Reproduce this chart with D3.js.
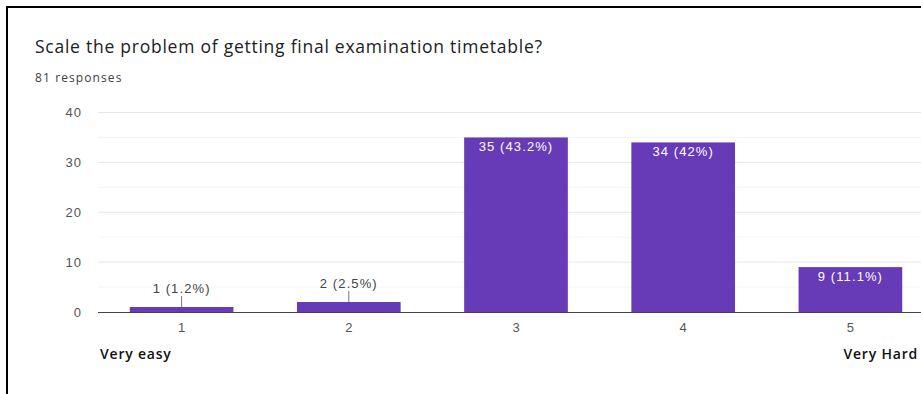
<!DOCTYPE html>
<html><head><meta charset="utf-8">
<script src="https://cdn.jsdelivr.net/npm/d3@7"></script>
<style>
html,body{margin:0;padding:0;background:#fff;overflow:hidden;}
svg{display:block;}
</style></head>
<body>
<svg id="chart" width="921" height="394"></svg>
<script>
const title = "Scale the problem of getting final examination timetable?";
const subtitle = "81 responses";
const categories = ["1", "2", "3", "4", "5"];
const counts = [1, 2, 35, 34, 9];
const percents = ["1.2%", "2.5%", "43.2%", "42%", "11.1%"];
const yTicks = [0, 10, 20, 30, 40];
const yMinorTicks = [5, 15, 25, 35];
const endLabels = ["Very easy", "Very Hard"];

const svg = d3.select("#chart");
const W = 921, H = 394;

// frame
svg.append("rect").attr("x",0).attr("y",0).attr("width",W).attr("height",H).attr("fill","#fff");
svg.append("line").attr("x1",7).attr("x2",7).attr("y1",6).attr("y2",H).attr("stroke","#000").attr("stroke-width",2);
svg.append("line").attr("x1",6).attr("x2",W).attr("y1",7).attr("y2",7).attr("stroke","#000").attr("stroke-width",2);

svg.append("text").attr("x",35).attr("y",53).text(title)
  .attr("font-family","'Open Sans', Roboto, sans-serif").attr("font-size",17.5)
  .attr("letter-spacing",0.75).attr("fill","#202124");
svg.append("text").attr("x",35).attr("y",82).text(subtitle)
  .attr("font-family","'Open Sans', Roboto, sans-serif").attr("font-size",12)
  .attr("letter-spacing",1.1).attr("fill","#3c4043");

const plot = {left: 98, right: 934, top: 112.5, bottom: 312};
const x = d3.scaleBand().domain(categories).range([plot.left, plot.right]).paddingInner(0.38).paddingOuter(0.19);
const y = d3.scaleLinear().domain([0, 40]).range([plot.bottom, plot.top]);

const font = "'Liberation Sans', Arial, sans-serif";
const g = svg.append("g");
// minor grid
g.selectAll(".minor").data(yMinorTicks).join("line")
  .attr("x1",plot.left).attr("x2",W).attr("y1",d=>y(d)).attr("y2",d=>y(d))
  .attr("stroke","#f4f4f4").attr("stroke-width",1);
// major grid
g.selectAll(".major").data(yTicks.filter(d=>d>0)).join("line")
  .attr("x1",plot.left).attr("x2",W).attr("y1",d=>y(d)).attr("y2",d=>y(d))
  .attr("stroke","#e6e6e6").attr("stroke-width",1);

// y axis labels
const yAxis = d3.axisLeft(y).tickValues(yTicks).tickSize(0).tickPadding(16);
const ya = svg.append("g").attr("transform",`translate(${plot.left},0)`).call(yAxis);
ya.select(".domain").remove();
ya.selectAll("text").attr("font-family",font).attr("font-size",13).attr("letter-spacing",1).attr("fill","#555");

// bars
const data = categories.map((c,i)=>({c, v:counts[i], p:percents[i]}));
svg.selectAll(".bar").data(data).join("rect")
  .attr("x",d=>x(d.c)).attr("width",x.bandwidth())
  .attr("y",d=>y(d.v)).attr("height",d=>y(0)-y(d.v))
  .attr("fill","#673ab7");

// baseline
svg.append("line").attr("x1",plot.left).attr("x2",W).attr("y1",y(0)+0.5).attr("y2",y(0)+0.5)
  .attr("stroke","#444").attr("stroke-width",1.2);

// x axis labels
const xAxis = d3.axisBottom(x).tickSize(0).tickPadding(11);
const xa = svg.append("g").attr("transform",`translate(0,${plot.bottom})`).call(xAxis);
xa.select(".domain").remove();
xa.selectAll("text").attr("font-family",font).attr("font-size",13).attr("fill","#555");

// value labels
data.forEach(d=>{
  const cx = x(d.c) + x.bandwidth()/2;
  const label = `${d.v} (${d.p})`;
  if (d.v < 5) {
    const ty = y(d.v) - 14;
    svg.append("line").attr("x1",cx).attr("x2",cx).attr("y1",y(d.v)).attr("y2",ty+3)
      .attr("stroke","#777").attr("stroke-width",1);
    svg.append("text").attr("x",cx).attr("y",ty).attr("text-anchor","middle").text(label)
      .attr("font-family",font).attr("font-size",13).attr("letter-spacing",1.1).attr("fill","#444");
  } else {
    svg.append("text").attr("x",cx).attr("y",y(d.v)+14).attr("text-anchor","middle").text(label)
      .attr("font-family",font).attr("font-size",13).attr("letter-spacing",1.1).attr("fill","#fff");
  }
});

// end labels
svg.append("text").attr("x",100).attr("y",359).text(endLabels[0])
  .attr("font-family","'Open Sans', sans-serif").attr("font-size",14).attr("letter-spacing",0.8)
  .attr("font-weight",600).attr("fill","#111");
svg.append("text").attr("x",918).attr("y",359).attr("text-anchor","end").text(endLabels[1])
  .attr("font-family","'Open Sans', sans-serif").attr("font-size",14).attr("letter-spacing",0.8)
  .attr("font-weight",600).attr("fill","#111");
</script>
</body></html>
